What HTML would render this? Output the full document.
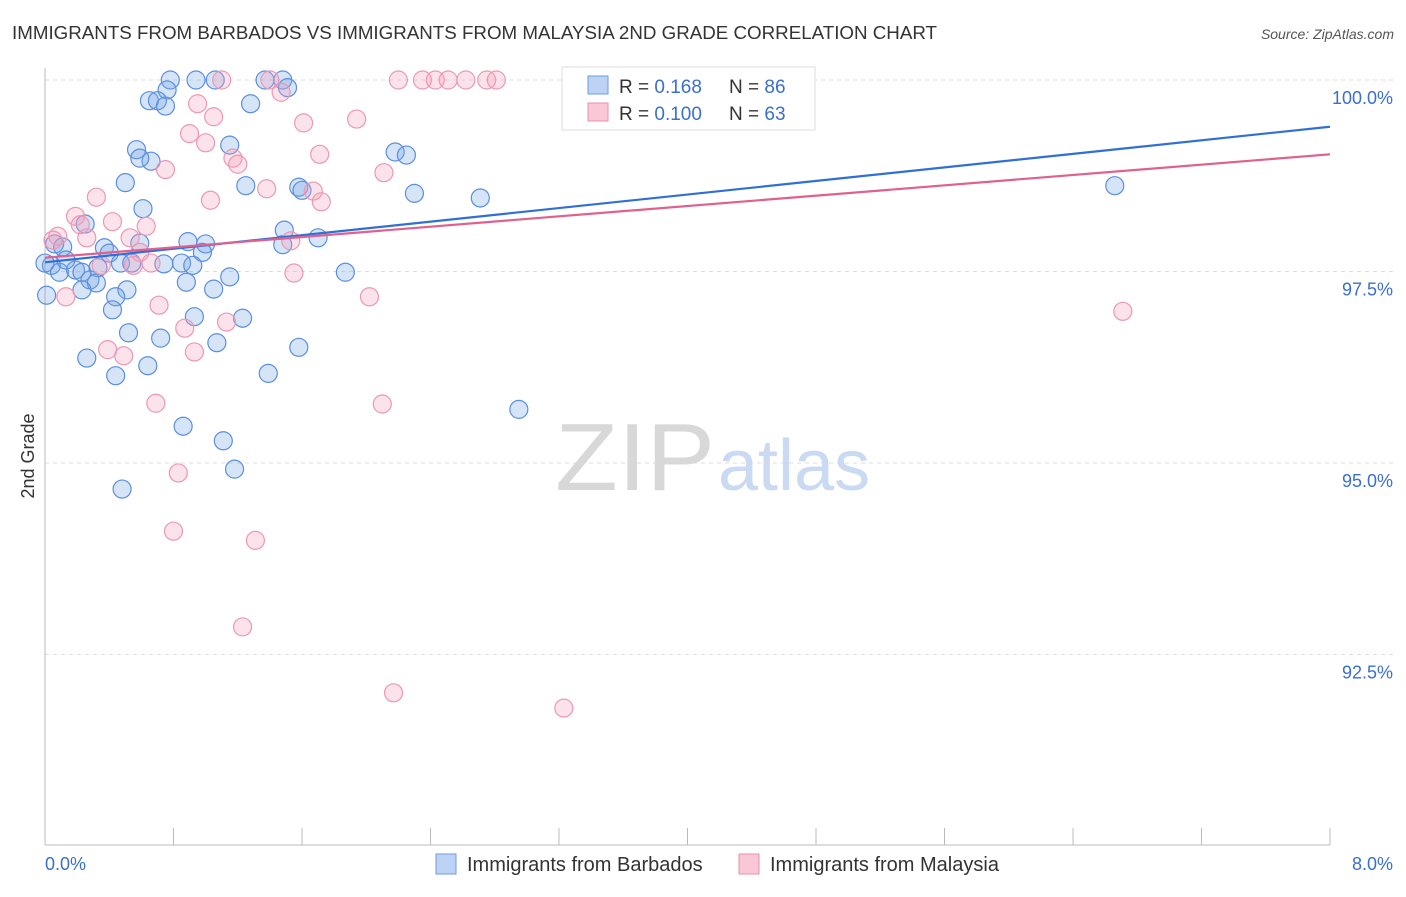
<!DOCTYPE html>
<html><head><meta charset="utf-8"><style>
body{margin:0;background:#fff;font-family:"Liberation Sans",sans-serif;}
svg text{font-family:"Liberation Sans",sans-serif;}
</style></head><body>
<svg width="1406" height="892" viewBox="0 0 1406 892" xmlns="http://www.w3.org/2000/svg">
<text x="12" y="39" font-size="18" fill="#333" textLength="925" lengthAdjust="spacingAndGlyphs">IMMIGRANTS FROM BARBADOS VS IMMIGRANTS FROM MALAYSIA 2ND GRADE CORRELATION CHART</text>
<text x="1394" y="39" font-size="14" fill="#555" text-anchor="end" font-style="italic">Source: ZipAtlas.com</text>
<g id="grid"></g>
<g id="axes"></g>
<text x="555" y="490" font-size="96" fill="#d8d8d8" font-family="Liberation Serif" textLength="160" lengthAdjust="spacingAndGlyphs">ZIP</text>
<text x="718" y="490" font-size="72" fill="#c9daf2">atlas</text>
<g id="pts"></g>
<g id="lines"></g>
<g>
<rect x="562" y="67" width="253" height="63" fill="#fff" stroke="#ddd"/>
<rect x="588" y="76" width="20" height="18" fill="#bcd3f5" stroke="#6f9be0"/>
<rect x="588" y="103" width="20" height="18" fill="#f8c8d6" stroke="#ea8fab"/>
<text x="619" y="93" font-size="19" fill="#333">R = <tspan fill="#3a6fd0">0.168</tspan></text>
<text x="729" y="93" font-size="19" fill="#333">N = <tspan fill="#3a6fd0">86</tspan></text>
<text x="619" y="120" font-size="19" fill="#333">R = <tspan fill="#3a6fd0">0.100</tspan></text>
<text x="729" y="120" font-size="19" fill="#333">N = <tspan fill="#3a6fd0">63</tspan></text>
</g>
<g>
<rect x="436" y="854" width="20" height="20" fill="#bcd3f5" stroke="#6f9be0"/>
<text x="467" y="871" font-size="20" fill="#333">Immigrants from Barbados</text>
<rect x="739" y="854" width="20" height="20" fill="#f8c8d6" stroke="#ea8fab"/>
<text x="770" y="871" font-size="20" fill="#333">Immigrants from Malaysia</text>
</g>
<text transform="translate(34,456) rotate(-90)" font-size="18" fill="#333" text-anchor="middle">2nd Grade</text>
</svg>
<script>
const blueX=[0.78,0.94,1.06,1.37,1.48,0.76,1.51,0.65,0.70,0.75,1.28,0.57,0.66,0.59,1.15,2.18,2.25,0.50,1.25,1.58,1.60,2.30,2.71,6.66,0.61,0.25,1.49,1.70,0.89,1.00,0.59,0.37,0.06,0.11,0.40,0.98,1.48,0.04,0.09,0.19,0.23,0.33,0.47,0.54,0.74,0.85,0.92,1.87,1.15,0.88,1.05,0.28,0.32,0.23,0.51,0.44,0.42,0.93,1.23,0.52,0.72,1.07,1.58,0.26,0.64,0.44,1.39,2.95,0.86,1.11,1.18,0.48,0.01,0.13,0.00];
const blueY=[100,100,100,100,100,99.87,99.90,99.73,99.73,99.66,99.69,99.09,98.94,98.98,99.15,99.06,99.02,98.66,98.62,98.60,98.56,98.52,98.46,98.62,98.32,98.12,98.04,97.94,97.89,97.86,97.87,97.81,97.86,97.82,97.74,97.75,97.85,97.58,97.49,97.52,97.49,97.55,97.61,97.61,97.60,97.61,97.58,97.49,97.43,97.36,97.27,97.39,97.35,97.26,97.26,97.17,97.00,96.91,96.89,96.70,96.63,96.57,96.51,96.37,96.27,96.14,96.17,95.70,95.48,95.29,94.92,94.66,97.19,97.65,97.61];
const pinkX=[1.10,1.40,2.20,2.35,2.43,2.51,2.62,2.75,2.81,3.39,1.47,0.95,1.05,1.94,1.61,0.90,1.00,1.71,1.17,1.20,0.75,2.11,0.32,1.03,1.38,1.67,1.72,0.19,0.42,0.63,0.22,0.26,0.53,0.08,1.53,0.59,0.66,0.55,0.35,1.55,2.02,0.13,0.71,6.71,0.87,1.13,0.39,0.49,0.93,0.69,2.10,0.83,0.80,1.31,1.23,2.17,3.23,0.05];
const pinkY=[100,100,100,100,100,100,100,100,100,100,99.84,99.69,99.52,99.49,99.44,99.30,99.18,99.03,98.98,98.90,98.83,98.79,98.47,98.43,98.58,98.55,98.41,98.22,98.15,98.09,98.11,97.94,97.94,97.96,97.90,97.75,97.61,97.58,97.58,97.48,97.17,97.17,97.06,96.98,96.76,96.84,96.48,96.40,96.45,95.78,95.77,94.87,94.11,93.99,92.86,92.00,91.80,97.91];
const blueLine=[97.62,99.39];
const pinkLine=[97.68,99.03];
const yTicks=[100,97.5,95,92.5];
const yTickLabels=["100.0%","97.5%","95.0%","92.5%"];
const xTicks=[0,0.8,1.6,2.4,3.2,4,4.8,5.6,6.4,7.2,8];
const NS="http://www.w3.org/2000/svg";
const X=v=>45+v/8*1285;
const Y=v=>80+(100-v)*76.6;
function mk(p,t,a){const e=document.createElementNS(NS,t);for(const k in a)e.setAttribute(k,a[k]);p.appendChild(e);return e;}
const grid=document.getElementById('grid'),axes=document.getElementById('axes');
yTicks.forEach((v,i)=>{
 const l=mk(grid,'line',{x1:45,x2:1394,y1:Y(v),y2:Y(v),stroke:'#ddd','stroke-dasharray':'4,4'});
 
 
 const t=mk(axes,'text',{x:1393,y:Y(v)+24,'font-size':18,fill:'#3a6fd0','text-anchor':'end'});
 t.textContent=yTickLabels[i];
 
 
});
mk(axes,'line',{x1:45,x2:45,y1:68,y2:845,stroke:'#bbb'});
mk(axes,'line',{x1:45,x2:1330,y1:845,y2:845,stroke:'#bbb'});
xTicks.forEach(v=>{
 const l=mk(axes,'line',{x1:X(v),x2:X(v),y1:828,y2:845,stroke:'#bbb'});
 
 
});
const t0=mk(axes,'text',{x:45,y:870,'font-size':18,fill:'#3a6fd0'});t0.textContent="0.0%";


const t8=mk(axes,'text',{x:1393,y:870,'font-size':18,fill:'#3a6fd0','text-anchor':'end'});t8.textContent="8.0%";


const pts=document.getElementById('pts');
blueX.forEach((x,i)=>{
 const c=mk(pts,'circle',{cx:X(x),cy:Y(blueY[i]),r:9,fill:'rgba(120,165,230,0.3)',stroke:'#5a8ee0','stroke-width':1.2});
 
 
});
pinkX.forEach((x,i)=>{
 const c=mk(pts,'circle',{cx:X(x),cy:Y(pinkY[i]),r:9,fill:'rgba(245,160,185,0.3)',stroke:'#ec98b2','stroke-width':1.2});
 
 
});
const lines=document.getElementById('lines');
const bl=mk(lines,'line',{x1:X(0),y1:Y(blueLine[0]),x2:X(8),y2:Y(blueLine[1]),stroke:'#2f6fd6','stroke-width':2.2});


const pl=mk(lines,'line',{x1:X(0),y1:Y(pinkLine[0]),x2:X(8),y2:Y(pinkLine[1]),stroke:'#e0608e','stroke-width':2.2});


</script>
</body></html>
